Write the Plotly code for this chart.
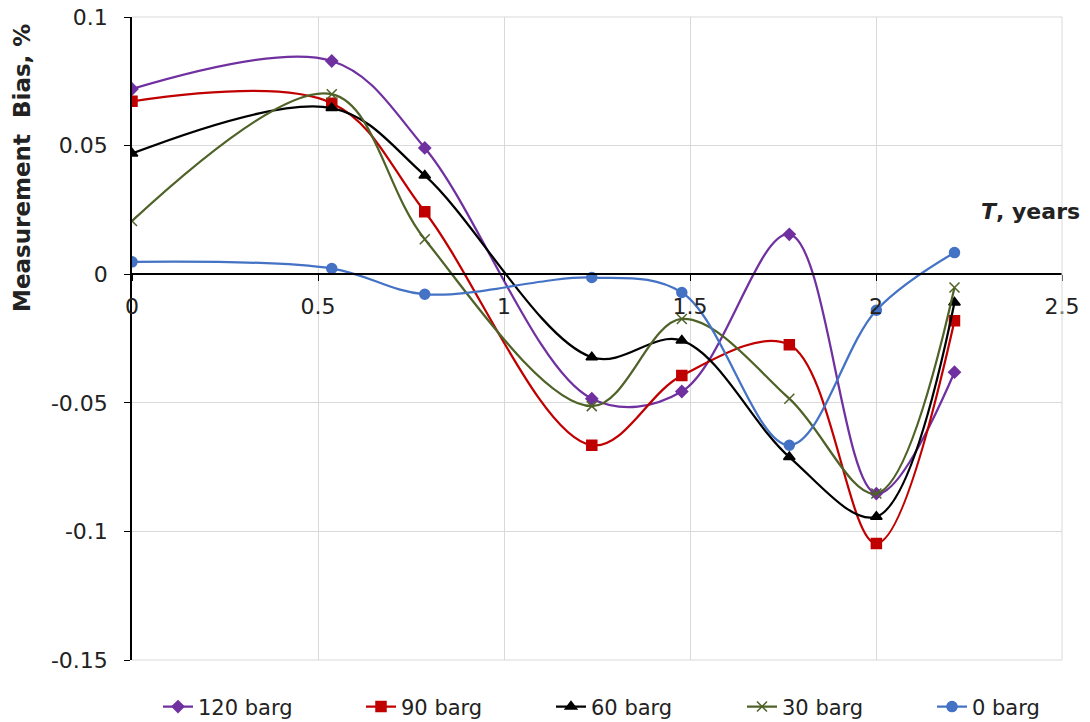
import plotly.graph_objects as go

# Measurement time, years
t_years = [0.0, 0.537, 0.787, 1.236, 1.478, 1.767, 2.001, 2.211]

# Measurement bias (%) for each line pressure
bias_120 = [0.0720, 0.0829, 0.0491, -0.0484, -0.0456, 0.0155, -0.0853, -0.0381]
bias_90 = [0.0672, 0.0665, 0.0243, -0.0665, -0.0394, -0.0274, -0.1047, -0.0181]
bias_60 = [0.0469, 0.0646, 0.0384, -0.0323, -0.0258, -0.0711, -0.0943, -0.0110]
bias_30 = [0.0207, 0.0700, 0.0136, -0.0513, -0.0174, -0.0484, -0.0853, -0.0052]
bias_0 = [0.0048, 0.0022, -0.0078, -0.0013, -0.0071, -0.0665, -0.0140, 0.0084]

series_names = ["120 barg", "90 barg", "60 barg", "30 barg", "0 barg"]
series_values = [bias_120, bias_90, bias_60, bias_30, bias_0]
series_colors = ["#7030A0", "#C00000", "#000000", "#4F6228", "#4472C4"]
series_symbols = ["diamond", "square", "triangle-up", "x-thin-open", "circle"]
series_sizes = [9, 10, 10, 10, 10]

x_ticks = [0, 0.5, 1, 1.5, 2, 2.5]
x_tick_text = ["0", "0.5", "1", "1.5", "2", "2.5"]
y_ticks = [0.1, 0.05, 0, -0.05, -0.1, -0.15]
y_tick_text = ["0.1", "0.05", "0", "-0.05", "-0.1", "-0.15"]

FONT = "DejaVu Sans, Verdana, sans-serif"
tick_font = dict(family=FONT, size=22, color="#222222")

PLOT_L, PLOT_R = 132, 28
PLOT_W = 1090 - PLOT_L - PLOT_R

# Left edge (px) of each legend entry along the bottom row
legend_left_px = [158, 361, 551, 742, 932]
legend_ids = ["legend", "legend2", "legend3", "legend4", "legend5"]

fig = go.Figure()
for name, vals, col, sym, sz, lid in zip(series_names, series_values, series_colors,
                                         series_symbols, series_sizes, legend_ids):
    fig.add_trace(go.Scatter(
        x=t_years, y=vals, name=name, mode="lines+markers", legend=lid,
        line=dict(color=col, width=2.25, shape="spline", smoothing=1.0),
        marker=dict(symbol=sym, size=sz, color=col,
                    line=dict(color=col, width=1.5)),
    ))

legend_style = {}
for lid, left in zip(legend_ids, legend_left_px):
    legend_style[lid] = dict(orientation="h", x=(left - PLOT_L) / PLOT_W, y=-0.073,
                             xanchor="left", yanchor="middle", itemwidth=30,
                             bgcolor="rgba(0,0,0,0)",
                             font=dict(family=FONT, size=21, color="#222222"))

fig.update_layout(
    width=1090, height=722,
    margin=dict(l=PLOT_L, r=PLOT_R, t=17, b=62, autoexpand=False),
    paper_bgcolor="white", plot_bgcolor="white",
    showlegend=True,
    **legend_style,
    xaxis=dict(range=[0, 2.5], tickvals=x_ticks, ticktext=x_tick_text,
               showgrid=True, gridcolor="#D9D9D9", gridwidth=1,
               showline=True, linecolor="#000000", linewidth=1.5,
               ticks="outside", ticklen=6, tickcolor="#000000",
               anchor="free", position=0.6, zeroline=False,
               ticklabelstandoff=7, tickfont=tick_font, mirror=False),
    yaxis=dict(range=[-0.15, 0.1], tickvals=y_ticks, ticktext=y_tick_text,
               showgrid=True, gridcolor="#D9D9D9", gridwidth=1,
               showline=True, linecolor="#000000", linewidth=1.5,
               ticks="outside", ticklen=6, tickcolor="#000000",
               zeroline=False, ticklabelstandoff=12, tickfont=tick_font),
    annotations=[
        dict(text="<b>Measurement  Bias, %</b>", textangle=-90,
             x=(22 - PLOT_L) / PLOT_W, y=0.1, xref="paper", yref="y",
             xanchor="center", yanchor="top", yshift=-5,
             showarrow=False, font=dict(family=FONT, size=23, color="#222222")),
        dict(text="<b><i>T</i>, years</b>", x=1.0, y=0.0245,
             xref="paper", yref="y", xanchor="right", yanchor="middle",
             showarrow=False, xshift=20,
             font=dict(family=FONT, size=22, color="#222222")),
    ],
)

# Frame lines along the top, right and bottom of the plotting area
fig.add_shape(type="line", xref="paper", yref="paper", x0=0, x1=1, y0=1, y1=1,
              line=dict(color="#D9D9D9", width=1))
fig.add_shape(type="line", xref="paper", yref="paper", x0=1, x1=1, y0=0, y1=1,
              line=dict(color="#D9D9D9", width=1))
fig.add_shape(type="line", xref="paper", yref="paper", x0=0, x1=1, y0=0, y1=0,
              line=dict(color="#D9D9D9", width=1))

fig.write_html("out.html")
